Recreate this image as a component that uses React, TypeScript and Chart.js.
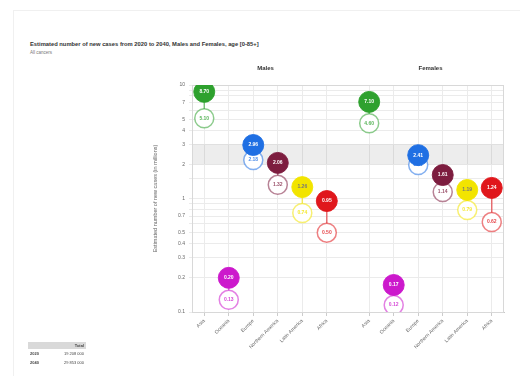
import { useEffect, useRef } from "react";
import { Chart, registerables } from "chart.js";

Chart.register(...registerables);

const regions = ["Asia", "Oceania", "Europe", "Northern America", "Latin America", "Africa"];
const colors = ["#2ea12e", "#cc19cc", "#1f6fe3", "#7d1d3f", "#f2e400", "#e0171c"];
const males2020 = [5.1, 0.128, 2.18, 1.32, 0.745, 0.5];
const males2040 = [8.7, 0.2, 2.96, 2.06, 1.26, 0.95];
const females2020 = [4.6, 0.115, 1.97, 1.14, 0.79, 0.62];
const females2040 = [7.1, 0.173, 2.41, 1.61, 1.19, 1.24];
const panels = ["Males", "Females"];
const yTickLabels = [0.1, 0.2, 0.3, 0.4, 0.5, 0.7, 1, 2, 3, 4, 5, 7, 10];
const bandRange = [2, 3];
const years = ["2020", "2040"];
const GAP = 0.73;

const xPos = (panel: number, i: number) => i + panel * (regions.length + GAP);
const allX = [0, 1].flatMap((p) => regions.map((_, i) => xPos(p, i)));

function fade(hex: string, a: number) {
  const n = parseInt(hex.slice(1), 16);
  return `rgba(${(n >> 16) & 255},${(n >> 8) & 255},${n & 255},${a})`;
}

export default function App() {
  const ref = useRef<HTMLCanvasElement | null>(null);

  useEffect(() => {
    if (!ref.current) return;
    const open = [...males2020, ...females2020];
    const filled = [...males2040, ...females2040];
    const cols = [...colors, ...colors];

    const lineSets = allX.map((x, k) => ({
      type: "line" as const,
      data: [
        { x, y: open[k] },
        { x, y: filled[k] },
      ],
      borderColor: fade(cols[k], 0.6),
      borderWidth: 1.5,
      pointRadius: 0,
      showLine: true,
      order: 3,
    }));

    const framePlugin = {
      id: "frame",
      beforeDatasetsDraw(chart: any) {
        const { ctx, chartArea: a, scales } = chart;
        const y1 = scales.y.getPixelForValue(bandRange[1]);
        const y0 = scales.y.getPixelForValue(bandRange[0]);
        ctx.save();
        ctx.fillStyle = "rgba(0,0,0,0.07)";
        ctx.fillRect(a.left, y1, a.right - a.left, y0 - y1);
        ctx.strokeStyle = "#d8d8d8";
        ctx.lineWidth = 1;
        ctx.strokeRect(a.left + 0.5, a.top + 0.5, a.right - a.left - 1, a.bottom - a.top);
        ctx.fillStyle = "#333";
        ctx.font = "bold 6px 'Liberation Sans', Arial, sans-serif";
        ctx.textAlign = "center";
        ctx.textBaseline = "middle";
        panels.forEach((p, pi) => {
          const cx = (scales.x.getPixelForValue(xPos(pi, 0)) + scales.x.getPixelForValue(xPos(pi, regions.length - 1))) / 2;
          ctx.fillText(p, cx, a.top - 17);
        });
        ctx.restore();
      },
      afterDatasetsDraw(chart: any) {
        const { ctx } = chart;
        ctx.save();
        ctx.font = "bold 5px 'Liberation Sans', Arial, sans-serif";
        ctx.textAlign = "center";
        ctx.textBaseline = "middle";
        [0, 1].forEach((di) => {
          const meta = chart.getDatasetMeta(di);
          const vals = di === 0 ? filled : open;
          meta.data.forEach((el: any, k: number) => {
            ctx.fillStyle = di === 0 ? (k % 6 === 4 ? "#777" : "#fff") : fade(cols[k], 0.8);
            ctx.fillText(vals[k].toFixed(2), el.x, el.y);
          });
        });
        ctx.restore();
      },
    };

    const chart = new Chart(ref.current, {
      type: "scatter",
      data: {
        datasets: [
          {
            label: years[1],
            data: allX.map((x, k) => ({ x, y: filled[k] })),
            pointBackgroundColor: cols,
            pointBorderColor: cols.map((c) => fade(c, 0.9)),
            pointBorderWidth: 1,
            pointRadius: 10.5,
            order: 1,
          } as any,
          {
            label: years[0],
            data: allX.map((x, k) => ({ x, y: open[k] })),
            pointBackgroundColor: "#ffffff",
            pointBorderColor: cols.map((c) => fade(c, 0.55)),
            pointBorderWidth: 1.5,
            pointRadius: 9.5,
            order: 2,
          } as any,
          ...lineSets,
        ],
      },
      options: {
        animation: false,
        responsive: false,
        events: [],
        layout: { padding: { left: 150, right: 16, top: 85, bottom: 0 } },
        plugins: { legend: { display: false }, tooltip: { enabled: false } },
        scales: {
          x: {
            type: "linear",
            min: -0.5,
            max: xPos(1, regions.length - 1) + 0.5,
            afterBuildTicks: (s: any) => {
              s.ticks = allX.map((v) => ({ value: v }));
            },
            afterFit: (s: any) => {
              s.height = 64;
            },
            ticks: {
              autoSkip: false,
              minRotation: 45,
              maxRotation: 45,
              padding: 2,
              color: "#666",
              font: { size: 5, family: "'Liberation Sans', Arial, sans-serif" },
              callback: (v: any) => {
                const k = allX.findIndex((x) => Math.abs(x - v) < 1e-6);
                return k >= 0 ? regions[k % regions.length] : "";
              },
            },
            grid: { color: "#ebebeb", tickLength: 4, tickColor: "#ccc" },
            border: { color: "#c8c8c8" },
          },
          y: {
            type: "logarithmic",
            min: 0.1,
            max: 10,
            afterFit: (s: any) => {
              s.width = 42;
            },
            ticks: {
              autoSkip: false,
              color: "#666",
              padding: 4,
              font: { size: 5, family: "'Liberation Sans', Arial, sans-serif" },
              callback: (v: any) => {
                const hit = yTickLabels.find((t) => Math.abs(t - v) < 1e-6);
                return hit === undefined ? "" : hit >= 1 ? String(hit) : hit.toFixed(1);
              },
            },
            title: {
              display: true,
              text: "Estimated number of new cases (in millions)",
              color: "#666",
              font: { size: 5.5, family: "'Liberation Sans', Arial, sans-serif" },
              padding: 2,
            },
            grid: { color: "#ebebeb", tickLength: 3 },
            border: { color: "#c8c8c8" },
          },
        },
      } as any,
      plugins: [framePlugin],
    });
    return () => chart.destroy();
  }, []);

  const total = (a: number[], b: number[]) =>
    Math.round((a.reduce((s, v) => s + v, 0) + b.reduce((s, v) => s + v, 0)) * 1e6).toLocaleString("en-US").replace(/,/g, " ");

  const font = "'Liberation Sans', Arial, sans-serif";
  return (
    <div style={{ position: "fixed", left: 0, top: 0, width: 520, height: 376, background: "#fff", fontFamily: font }}>
      <div style={{ position: "absolute", left: 13, top: 10, width: 506, height: 365, border: "1px solid #f0f0f0" }} />
      <div style={{ position: "absolute", left: 30, top: 41, fontSize: 5.8, fontWeight: "bold", color: "#333", whiteSpace: "nowrap" }}>
        Estimated number of new cases from 2020 to 2040, Males and Females, age [0-85+]
      </div>
      <div style={{ position: "absolute", left: 30, top: 50, fontSize: 4.5, color: "#777" }}>All cancers</div>
      <canvas ref={ref} width={520} height={376} style={{ position: "absolute", left: 0, top: 0 }} />
      <table
        style={{
          position: "absolute",
          left: 28,
          top: 342,
          width: 58,
          borderCollapse: "collapse",
          fontSize: 4,
          color: "#444",
        }}
      >
        <thead>
          <tr style={{ background: "#d9d9d9" }}>
            <th style={{ padding: "1px 2px", textAlign: "left" }}></th>
            <th style={{ padding: "1px 2px", textAlign: "right" }}>Total</th>
          </tr>
        </thead>
        <tbody>
          <tr>
            <td style={{ padding: "2px 2px", fontWeight: "bold" }}>{years[0]}</td>
            <td style={{ padding: "2px 2px", textAlign: "right" }}>{total(males2020, females2020)}</td>
          </tr>
          <tr>
            <td style={{ padding: "2px 2px", fontWeight: "bold" }}>{years[1]}</td>
            <td style={{ padding: "2px 2px", textAlign: "right" }}>{total(males2040, females2040)}</td>
          </tr>
        </tbody>
      </table>
    </div>
  );
}
